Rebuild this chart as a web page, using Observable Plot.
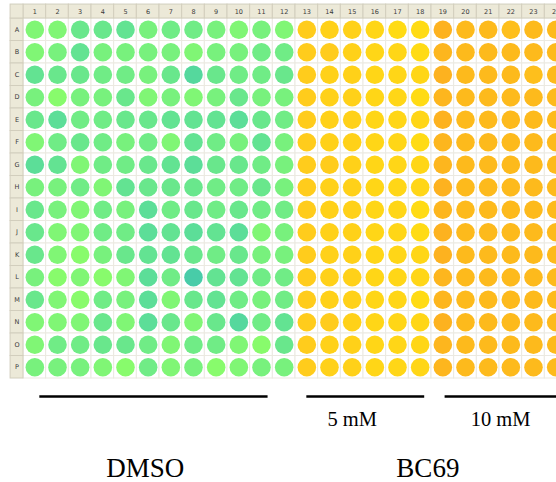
<!DOCTYPE html>
<html>
<head>
<meta charset="utf-8">
<script src="https://cdn.jsdelivr.net/npm/d3@7"></script>
<script src="https://cdn.jsdelivr.net/npm/@observablehq/plot@0.6"></script>
<style>
  html, body { margin: 0; padding: 0; background: #fff; overflow: hidden; }
  #chart svg { display: block; max-width: none; }
</style>
</head>
<body>
<div id="chart"></div>
<script>
// Plate layout
const rowLabels = ["A","B","C","D","E","F","G","H","I","J","K","L","M","N","O","P"];
const colLabels = [1,2,3,4,5,6,7,8,9,10,11,12,13,14,15,16,17,18,19,20,21,22,23,24];

// DMSO wells (columns 1-12): green shade level, 0 = yellow-green ... 9 = teal
const dmsoLevels = [
  "114452332121",
  "125222212233",
  "544332474334",
  "202241212422",
  "463344555643",
  "134323153252",
  "651334564432",
  "223154443342",
  "421326343433",
  "411336565612",
  "410245543422",
  "201016395533",
  "410326145323",
  "111416414735",
  "133443133104",
  "222103120122"
];

// BC69 wells (columns 13-24): yellow/orange level, 0 = bright yellow ... 9 = orange
const bc69Levels = [
  "322100977677",
  "332110877777",
  "322111977767",
  "322110877777",
  "322111977777",
  "322110877777",
  "332111877777",
  "322111977777",
  "322110877777",
  "322110977777",
  "322111977777",
  "322111877777",
  "322110877777",
  "332111977777",
  "322111877777",
  "322111877777"
];

// Annotations
const concLabels = ["5 mM", "10 mM"];
const concFrom = [13.0, 19.1];
const concTo = [18.2, 25];
const concCenter = [15.0, 21.55];
const groupLabels = ["DMSO", "BC69"];
const groupCenter = [5.87, 18.34];
const dmsoFrom = [1.22];
const dmsoTo = [11.29];

const wells = [];
rowLabels.forEach((r, i) => {
  for (let j = 0; j < 12; j++) wells.push({row: i, col: colLabels[j], group: "DMSO", level: +dmsoLevels[i][j]});
  for (let j = 0; j < 12; j++) wells.push({row: i, col: colLabels[j + 12], group: "BC69", level: +bc69Levels[i][j]});
});

const green = d3.scaleLinear().domain([0, 3, 6, 9])
  .range(["#88fb6c", "#70ec86", "#5cde98", "#48cca8"]).interpolate(d3.interpolateRgb);
const yellow = d3.scaleLinear().domain([0, 3, 7, 9])
  .range(["#ffdb14", "#ffcc1c", "#fdba1c", "#fdb21f"]).interpolate(d3.interpolateRgb);

const headTop = -1.12, headBot = -0.5, sideLeft = -0.07, sideRight = 0.5;
const headFill = "#ece9d8", headStroke = "#d2cebd";

const lines = [
  ...dmsoFrom.map((f, i) => ({from: f, to: dmsoTo[i]})),
  ...concFrom.map((f, i) => ({from: f, to: concTo[i]}))
];

const plot = Plot.plot({
  width: 556,
  height: 482,
  marginLeft: 23,
  marginRight: -11,
  marginTop: 18,
  marginBottom: 104,
  x: {type: "linear", domain: [0.5, 24.5], axis: null},
  y: {type: "linear", domain: [-0.5, 15.5], reverse: true, axis: null},
  color: {type: "identity"},
  marks: [
    // well backgrounds with faint grid
    Plot.rect(wells, {x1: d => d.col - 0.5, x2: d => d.col + 0.5, y1: d => d.row - 0.5, y2: d => d.row + 0.5,
      fill: "white", stroke: "#ebe9e1", strokeWidth: 1}),
    // header row and row-label column
    Plot.rect(colLabels, {x1: d => d - 0.5, x2: d => d + 0.5, y1: headTop, y2: headBot, fill: headFill, stroke: headStroke}),
    Plot.rect(rowLabels, {x1: sideLeft, x2: sideRight, y1: (d, i) => i - 0.5, y2: (d, i) => i + 0.5, fill: headFill, stroke: headStroke}),
    Plot.rect([0], {x1: sideLeft, x2: sideRight, y1: headTop, y2: headBot, fill: headFill, stroke: headStroke}),
    Plot.text(colLabels, {x: d => d, y: (headTop + headBot) / 2, text: d => String(d),
      fontSize: 6.5, fontFamily: "DejaVu Sans", fill: "#3a3a3a"}),
    Plot.text(rowLabels, {x: (sideLeft + sideRight) / 2, y: (d, i) => i, text: d => d,
      fontSize: 6.5, fontFamily: "DejaVu Sans", fill: "#3a3a3a"}),
    // wells
    Plot.dot(wells, {x: "col", y: "row", r: 9.3,
      fill: d => d.group === "DMSO" ? green(d.level) : yellow(d.level)}),
    // annotation lines
    Plot.ruleY(lines, {y: 16.3, x1: "from", x2: "to", stroke: "black", strokeWidth: 2.4}),
    Plot.text(concLabels, {x: (d, i) => concCenter[i], y: 17.59, text: d => d, lineAnchor: "bottom",
      fontSize: 20.5, fontFamily: "Liberation Serif", fill: "black"}),
    Plot.text(groupLabels, {x: (d, i) => groupCenter[i], y: 19.86, text: d => d, lineAnchor: "bottom",
      fontSize: 27, fontFamily: "Liberation Serif", fill: "black"})
  ]
});
document.getElementById("chart").appendChild(plot);
</script>
</body>
</html>
